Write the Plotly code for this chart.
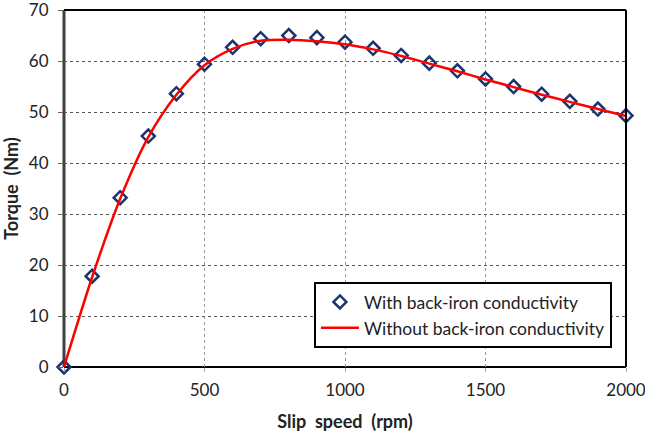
import plotly.graph_objects as go

slip_rpm = [0, 100, 200, 300, 400, 500, 600, 700, 800, 900, 1000,
            1100, 1200, 1300, 1400, 1500, 1600, 1700, 1800, 1900, 2000]
torque_with = [0, 17.8, 33.2, 45.3, 53.6, 59.4, 62.7, 64.4, 65.0, 64.6, 63.7,
               62.5, 61.1, 59.6, 58.1, 56.5, 55.0, 53.5, 52.1, 50.6, 49.3]
torque_without = [0, 17.6, 33.0, 45.1, 53.4, 59.2, 62.4, 64.0, 64.2, 63.9, 63.3,
                  62.3, 61.0, 59.5, 58.0, 56.4, 54.9, 53.4, 52.0, 50.6, 49.2]
x_ticks = [0, 500, 1000, 1500, 2000]
y_ticks = [0, 10, 20, 30, 40, 50, 60, 70]

FONT = "Lato, 'Open Sans', sans-serif"

fig = go.Figure()
fig.add_trace(go.Scatter(
    x=slip_rpm, y=torque_with, mode="markers",
    name="With back-iron conductivity",
    marker=dict(symbol="diamond-open", size=10, color="#1a3470",
                line=dict(width=2.5, color="#1a3470")),
    cliponaxis=False,
))
fig.add_trace(go.Scatter(
    x=slip_rpm, y=torque_without, mode="lines",
    name="Without back-iron conductivity",
    line=dict(color="#ff0000", width=2.5, shape="spline", smoothing=0.8),
    cliponaxis=False,
))

fig.update_layout(
    width=645, height=432,
    margin=dict(l=64, r=19, t=10, b=65, autoexpand=False),
    paper_bgcolor="white", plot_bgcolor="white",
    font=dict(family=FONT, size=17, color="#222"),
    showlegend=True,
    legend=dict(
        x=0.975, y=0.053, xanchor="right", yanchor="bottom",
        bordercolor="black", borderwidth=2, bgcolor="white",
        font=dict(family=FONT, size=17.5, color="#222"),
        tracegroupgap=0, itemwidth=38,
    ),
    xaxis=dict(
        range=[0, 2000], tickvals=x_ticks,
        showgrid=True, gridcolor="#999", griddash="dot", gridwidth=1,
        zeroline=False, showline=False, automargin=False,
        ticks="outside", ticklen=4, tickcolor="#aaa", ticklabelstandoff=4,
        ticklabeloverflow="allow",
        tickfont=dict(size=17, color="#222"),
        title=dict(text="Slip\u00a0 speed\u00a0 (rpm)", font=dict(size=18, color="#222", weight="bold"), standoff=16),
    ),
    yaxis=dict(
        range=[0, 70.02], tickvals=y_ticks,
        showgrid=True, gridcolor="#555", griddash="dot", gridwidth=1,
        zeroline=False, showline=False, automargin=False,
        ticks="outside", ticklen=5, tickcolor="#666", ticklabelstandoff=6,
        ticklabeloverflow="allow",
        tickfont=dict(size=17, color="#222"),
        title=dict(text="Torque\u00a0 (Nm)", font=dict(size=18, color="#222", weight="bold"), standoff=8),
    ),
    shapes=[
        dict(type="line", xref="paper", yref="paper", x0=0, x1=1, y0=1, y1=1,
             line=dict(color="black", width=2), layer="above"),
        dict(type="line", xref="paper", yref="paper", x0=1, x1=1, y0=0, y1=1,
             line=dict(color="black", width=2), layer="above"),
        dict(type="line", xref="paper", yref="paper", x0=0, x1=1, y0=0, y1=0,
             line=dict(color="black", width=2), layer="below"),
        dict(type="line", xref="paper", yref="paper", x0=0, x1=0, y0=0, y1=1,
             line=dict(color="#404040", width=3), layer="below"),
    ],
)

# remove the browser's default 8px body margin so the figure sits at (0, 0)
fig.write_html("out.html", config={"displayModeBar": False},
               post_script="document.body.style.margin='0';")
